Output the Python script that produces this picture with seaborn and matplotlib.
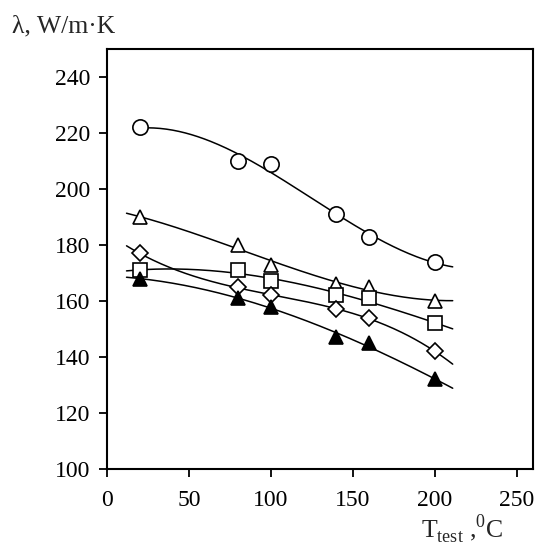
import numpy as np
import pandas as pd
import matplotlib
matplotlib.use("Agg")
import matplotlib.pyplot as plt
import seaborn as sns

# test temperatures, degC
t_test = [20, 80, 100, 140, 160, 200]

# thermal conductivity, W/m.K
lam_circle = [222, 210, 209, 191, 183, 174]
lam_tri_open = [190, 180, 173, 166, 165, 160]
lam_square = [171, 171, 167, 162, 161, 152]
lam_diamond = [177, 165, 162, 157, 154, 142]
lam_tri_fill = [168, 161, 158, 147, 145, 132]

series = [
    ("circle", lam_circle, "o", "white", 11),
    ("tri_open", lam_tri_open, "^", "white", 10.5),
    ("square", lam_square, "s", "white", 9.5),
    ("diamond", lam_diamond, "D", "white", 8),
    ("tri_fill", lam_tri_fill, "^", "black", 10.5),
]

sns.set_theme(style="ticks")
plt.rcParams["font.family"] = ["Liberation Serif", "DejaVu Serif"]
plt.rcParams["mathtext.fontset"] = "custom"
plt.rcParams["mathtext.rm"] = "Liberation Serif"

fig = plt.figure(figsize=(5.37, 5.45), dpi=100)
ax = fig.add_axes([0.199, 0.1394, 0.7936, 0.7706])

for name, vals, mk, fc, ms in series:
    coef = np.polyfit(t_test, vals, 3)
    x_fit = np.linspace(20 if name == "circle" else 12, 211, 200)
    fit = pd.DataFrame({"T": x_fit, "lam": np.polyval(coef, x_fit)})
    sns.lineplot(data=fit, x="T", y="lam", ax=ax, color="black", lw=1.1)
    df = pd.DataFrame({"T": t_test, "lam": vals})
    ax.plot(df["T"], df["lam"], ls="none", marker=mk, ms=ms,
            mfc=fc, mec="black", mew=1.2, zorder=3)

ax.set_xlim(0, 260)
ax.set_ylim(100, 250)
ax.set_xticks([0, 50, 100, 150, 200, 250])
ax.set_yticks([100, 120, 140, 160, 180, 200, 220, 240])
ax.tick_params(direction="out", length=6, width=1.3, labelsize=17, colors="black")
ax.tick_params(axis="x", pad=9)
ax.tick_params(axis="y", pad=6)
for s in ax.spines.values():
    s.set_linewidth(1.5)
    s.set_color("black")
ax.set_xlabel("")
ax.set_ylabel("")

fig.text(0.022, 0.941, "λ, W/m·K", fontsize=18.5, ha="left", va="baseline")
fig.text(0.937, 0.012, r"T$_{\rm test}$ ,$^{0}$C", fontsize=18.5, ha="right", va="baseline")

fig.savefig("out.png", dpi=100)
